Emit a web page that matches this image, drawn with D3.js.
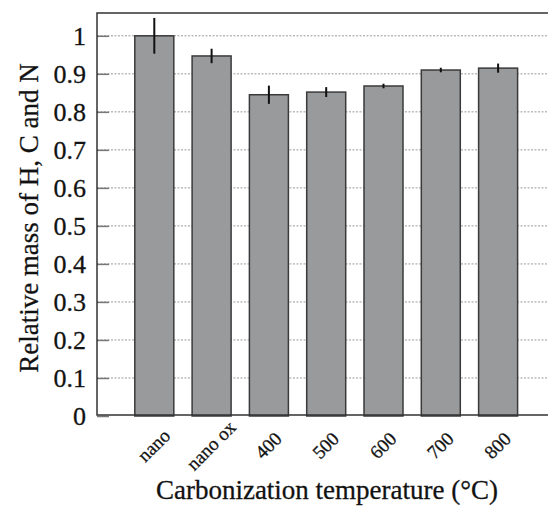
<!DOCTYPE html>
<html><head><meta charset="utf-8">
<script src="https://cdn.jsdelivr.net/npm/d3@7"></script>
<style>body{margin:0;background:#fff}svg{display:block} text{font-family:"Liberation Serif","DejaVu Serif",serif !important; stroke:#1a1a1a; stroke-width:0.3px}</style>
</head><body>
<svg id="c" width="548" height="507"></svg>
<script>
const categories = ["nano","nano ox","400","500","600","700","800"];
const values = [1.0, 0.947, 0.845, 0.852, 0.868, 0.910, 0.915];
const errors = [0.047, 0.019, 0.024, 0.013, 0.006, 0.006, 0.012];
const yTicks = [0,0.1,0.2,0.3,0.4,0.5,0.6,0.7,0.8,0.9,1];
const yTickLabels = ["0","0.1","0.2","0.3","0.4","0.5","0.6","0.7","0.8","0.9","1"];

const svg = d3.select("#c");
const x = d3.scaleLinear().domain([0, 8]).range([97, 555.4]);
const y = d3.scaleLinear().domain([0, 1.06]).range([416, 13]);
const bw = 39;

// gridlines
svg.append("g").selectAll("line").data(yTicks.slice(1)).join("line")
  .attr("x1", 97).attr("x2", 548).attr("y1", d=>y(d)).attr("y2", d=>y(d))
  .attr("stroke", "#9a9a9a").attr("stroke-width", 1).attr("stroke-dasharray", "2,1.5");

// y axis
const yAxis = d3.axisLeft(y).tickValues(yTicks).tickFormat((d,i)=>yTickLabels[i]).tickSize(-12).tickPadding(11);
const ga = svg.append("g").attr("transform","translate(97,0)").call(yAxis);
ga.attr("font-size", 26);
ga.select(".domain").remove();
ga.selectAll(".tick line").attr("stroke","#777").attr("stroke-width",1.5);
ga.selectAll(".tick text").style("font-size", "26px").attr("fill","#111");

// bars
svg.append("g").selectAll("rect").data(values).join("rect")
  .attr("x", (d,i)=>x(i+1)-bw/2).attr("width", bw)
  .attr("y", d=>y(d)).attr("height", d=>y(0)-y(d))
  .attr("fill", "#999a9c").attr("stroke", "#3a3a3a").attr("stroke-width", 1.5);

// error bars
svg.append("g").selectAll("line").data(values).join("line")
  .attr("x1", (d,i)=>x(i+1)).attr("x2", (d,i)=>x(i+1))
  .attr("y1", (d,i)=>y(d+errors[i])).attr("y2", (d,i)=>y(d-errors[i]))
  .attr("stroke", "#111").attr("stroke-width", 2);

// frame
svg.append("path").attr("d", `M548,13 H97 V415 H548`).attr("fill","none")
  .attr("stroke","#333").attr("stroke-width",1.5);

// x labels
svg.append("g").selectAll("text").data(categories).join("text")
  .attr("transform", (d,i)=>`translate(${x(i+1)},${446}) rotate(-45)`)
  .attr("text-anchor","middle").attr("dy","0.3em")
  .style("font-size", "19px").attr("fill","#111")
  .text(d=>d);

// axis titles
svg.append("text").attr("x", 327).attr("y", 499).attr("text-anchor","middle")
  .style("font-size", "27px").attr("fill","#111")
  .text("Carbonization temperature (°C)");
svg.append("text").attr("transform","translate(38,218) rotate(-90)").attr("text-anchor","middle")
  .style("font-size", "27px").attr("fill","#111")
  .text("Relative mass of H, C and N");
</script>
</body></html>
